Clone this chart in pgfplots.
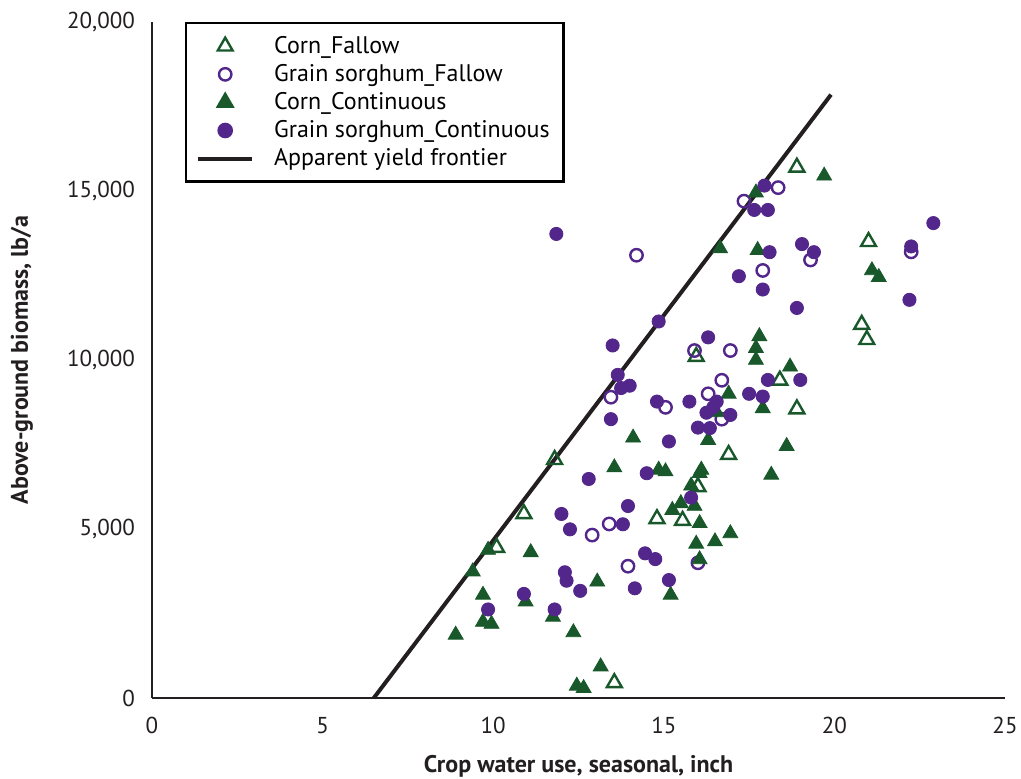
\documentclass[border=0pt]{standalone}
\usepackage{fontspec}
\setmainfont{PT Sans}
\usepackage{pgfplots}
\pgfplotsset{compat=1.18}
\definecolor{cgreen}{RGB}{24,88,42}
\definecolor{cpurple}{RGB}{82,38,138}
\definecolor{frontier}{RGB}{35,31,32}
\pgfplotsset{mkleg/.style={legend image code/.code={\draw[mark repeat=2,mark phase=2,##1] plot coordinates {(0pt,0pt) (13.5pt,0pt) (27pt,0pt)};}}}
\begin{document}
\begin{tikzpicture}
\useasboundingbox (-76pt,-40pt) rectangle (434.5pt,349pt);
\begin{axis}[
  scale only axis, width=426.5pt, height=338pt,
  xmin=0, xmax=25, ymin=0, ymax=20000,
  axis x line=bottom, axis y line=left,
  axis line style={-, line width=1.2pt, color=frontier},
  xtick={0,5,10,15,20,25}, ytick={0,5000,10000,15000,20000},
  scaled y ticks=false, scaled x ticks=false,
  major tick length=0pt,
  /pgf/number format/.cd, 1000 sep={,}, /pgfplots/.cd,
  /pgf/number format/assume math mode=true,
  ticklabel style={font=\fontsize{11.5}{13}\selectfont, color=frontier},
  yticklabel style={xshift=-5pt},
  xticklabel style={yshift=-6pt},
  xlabel={\bfseries Crop water use, seasonal, inch},
  ylabel={\bfseries Above-ground biomass, lb/a},
  xlabel style={at={(axis description cs:0.5,-0.1095)}, anchor=base, font=\fontsize{12}{14}\selectfont, color=frontier},
  ylabel style={at={(axis description cs:-0.1524,0.5)}, anchor=center, font=\fontsize{12}{14}\selectfont, color=frontier},
  clip=false,
  legend style={at={(0.0387,1)}, anchor=north west, draw=black, line width=1.2pt,
    font=\fontsize{12}{14}\selectfont, row sep=0pt, inner xsep=5pt, inner ysep=4.5pt,
    /tikz/every odd column/.append style={column sep=8pt}},
  legend cell align=left,
]
\addplot[line width=2pt, color=frontier, forget plot] coordinates {(6.5,0) (19.9,17850)};

\addplot[only marks, mkleg, mark=triangle, mark size=4.3pt, mark options={draw=cgreen, line width=1.2pt, solid}]
coordinates {(18.9,15700) (21.0,13500) (20.8,11050) (20.95,10600) (15.95,10100) (18.4,9400) (18.9,8550) (16.9,7200) (11.8,7050) (10.9,5450) (14.8,5300) (15.55,5250) (16.0,6250) (10.1,4450) (13.55,450)};
\addlegendentry{Corn\_Fallow}

\addplot[only marks, mkleg, mark=o, mark size=3.1pt, mark options={draw=cpurple, line width=1.2pt, solid}]
coordinates {(14.2,13100) (15.9,10280) (13.45,8900) (15.05,8600) (18.35,15100) (17.35,14700) (19.3,12960) (17.9,12650) (22.25,13200) (16.95,10280) (16.7,9400) (16.3,9000) (16.7,8250) (13.4,5150) (12.9,4820) (13.95,3900) (16.0,4000)};
\addlegendentry{Grain sorghum\_Fallow}

\addplot[only marks, mkleg, mark=triangle*, mark size=4.3pt, mark options={draw=cgreen, fill=cgreen, solid}]
coordinates {(19.7,15450) (17.7,14950) (16.65,13300) (17.75,13250) (21.1,12650) (21.3,12450) (17.8,10700) (17.7,10350) (17.7,10000) (18.7,9800) (16.9,9000) (17.9,8570) (16.55,8450) (16.3,7630) (14.1,7700) (18.6,7450) (13.55,6820) (14.85,6750) (15.05,6700) (16.1,6750) (16.05,6650) (18.15,6600) (15.8,6280) (15.5,5760) (15.25,5560) (15.9,5680) (16.05,5170) (16.95,4870) (16.5,4630) (15.95,4560) (16.05,4100) (9.85,4380) (11.1,4310) (9.4,3740) (13.05,3440) (9.7,3050) (10.95,2850) (15.2,3050) (11.75,2400) (9.7,2250) (9.95,2190) (8.9,1870) (12.35,1940) (13.15,930) (12.45,360) (12.65,290)};
\addlegendentry{Corn\_Continuous}

\addplot[only marks, mkleg, mark=*, mark size=3.3pt, mark options={draw=cpurple, fill=cpurple, solid}]
coordinates {(11.85,13730) (14.85,11140) (13.5,10430) (13.65,9560) (13.75,9170) (14.0,9240) (14.8,8770) (15.75,8770) (13.45,8250) (17.95,15160) (17.65,14440) (18.05,14440) (22.9,14050) (19.05,13430) (19.4,13190) (18.1,13190) (22.25,13360) (17.2,12480) (17.9,12085) (18.9,11540) (22.2,11780) (16.3,10670) (18.05,9410) (19.0,9410) (17.5,9000) (17.9,8920) (16.55,8770) (16.45,8600) (16.25,8440) (16.95,8375) (16.0,8000) (16.35,7985) (15.15,7590) (12.8,6480) (14.5,6650) (15.8,5930) (13.95,5680) (12.0,5445) (12.25,4990) (13.8,5140) (14.45,4280) (14.75,4110) (12.1,3720) (12.15,3470) (12.55,3170) (14.15,3245) (15.15,3490) (10.9,3080) (9.85,2620) (11.8,2620)};
\addlegendentry{Grain sorghum\_Continuous}

\addlegendimage{legend image code/.code={\draw[line width=2pt, color=frontier] (0pt,0pt) -- (27pt,0pt);}}
\addlegendentry{Apparent yield frontier}
\end{axis}
\end{tikzpicture}
\end{document}
